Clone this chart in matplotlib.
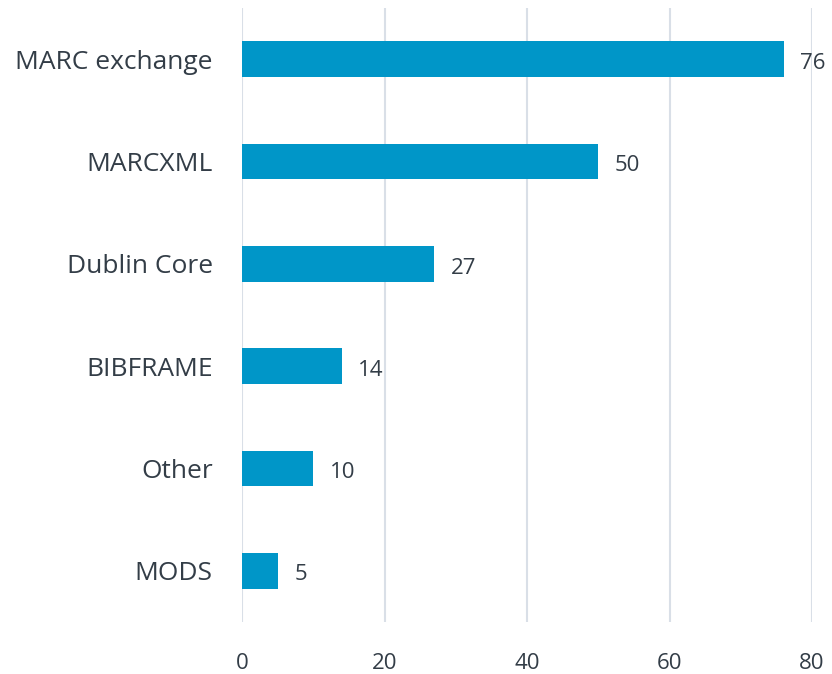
import matplotlib.pyplot as plt

categories = ['MARC exchange', 'MARCXML', 'Dublin Core', 'BIBFRAME', 'Other', 'MODS']
values = [76, 50, 27, 14, 10, 5]
xticks = [0, 20, 40, 60, 80]

text_color = '#333d47'
bar_color = '#0096c8'
grid_color = '#d9dfe7'

plt.rcParams['font.family'] = ['Open Sans', 'DejaVu Sans']

fig = plt.figure(figsize=(8.32, 6.74), dpi=100)
ax = fig.add_axes([242 / 832, 52 / 674, 570 / 832, 614 / 674])

y = list(range(len(categories)))
ax.barh(y, values, height=0.35, color=bar_color, zorder=3)
for yi, v in zip(y, values):
    ax.annotate(str(v), (v, yi), xytext=(12, -3), textcoords='offset points',
                ha='left', va='center', fontsize=16, color=text_color)

ax.set_ylim(len(categories) - 0.5, -0.5)
ax.set_xlim(0, 80)
ax.set_yticks(y)
ax.set_yticklabels(categories)
ax.set_xticks(xticks)
ax.tick_params(axis='both', length=0, labelcolor=text_color)
ax.tick_params(axis='y', pad=21, labelsize=19)
ax.tick_params(axis='x', pad=22, labelsize=16)
ax.grid(axis='x', color=grid_color, linewidth=1.5, zorder=0)
for s in ax.spines.values():
    s.set_visible(False)

fig.savefig('out.png', dpi=100)
